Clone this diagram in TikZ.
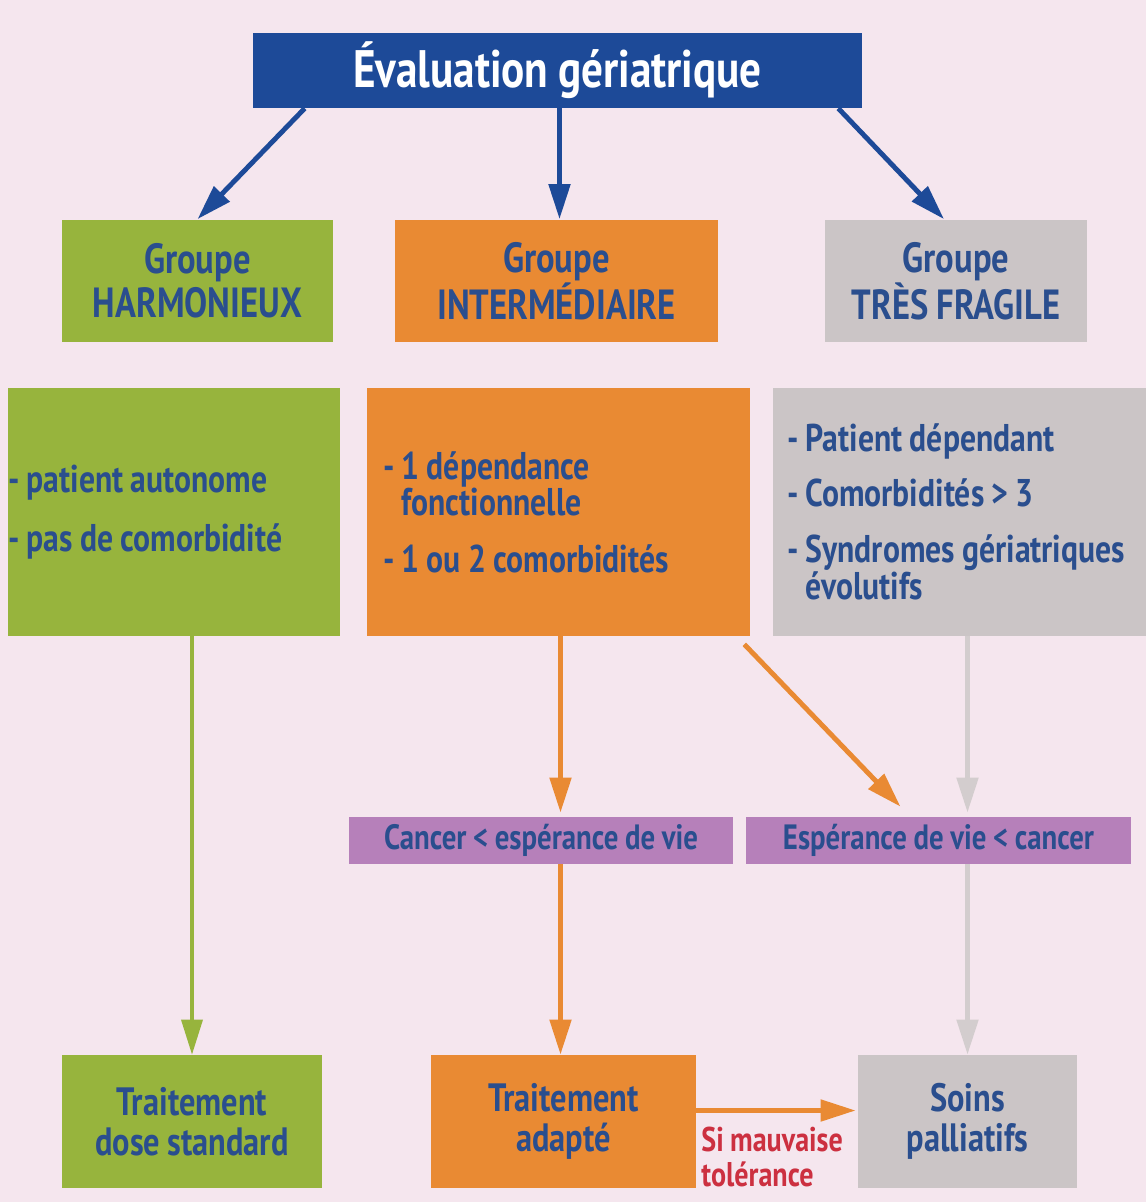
\documentclass[tikz,border=0pt]{standalone}
\usepackage{fontspec}
\setmainfont{PT Sans}[FakeStretch=0.82, WordSpace=0.9]
\usetikzlibrary{arrows.meta,calc}
\definecolor{bgpink}{HTML}{F5E6EE}
\definecolor{titleblue}{HTML}{1D4A98}
\definecolor{txtblue}{HTML}{2A4E8E}
\definecolor{grgreen}{HTML}{97B43D}
\definecolor{ororange}{HTML}{E98A33}
\definecolor{grgray}{HTML}{CBC5C6}
\definecolor{purp}{HTML}{B680BA}
\definecolor{arrgray}{HTML}{D3CDCE}
\definecolor{redtxt}{HTML}{CC3040}
\tikzset{
  box/.style={inner sep=2pt, text=txtblue, font=\bfseries},
  grp/.style={box, minimum height=2.46cm, align=center, font=\fontsize{24}{25}\selectfont\bfseries},
  desc/.style={box, minimum height=4.96cm, align=flush left, font=\fontsize{22}{20.5}\selectfont\bfseries},
  cond/.style={box, fill=purp, minimum height=0.94cm, font=\fontsize{20}{22}\selectfont\bfseries},
  res/.style={box, minimum height=2.66cm, align=center, font=\fontsize{22.5}{23}\selectfont\bfseries},
  fl/.style={line width=2.8pt, -{Triangle[length=20pt,width=12pt]}}
}
\begin{document}
\begin{tikzpicture}[x=0.02cm, y=-0.02cm]
  \fill[bgpink] (0,0) rectangle (1146,1202);
  \useasboundingbox (0,0) rectangle (1146,1202);
  % titre
  \node[box, fill=titleblue, text=white, minimum width=12.18cm, minimum height=1.5cm,
        font=\fontsize{30}{34}\selectfont\bfseries] (title) at (557.5,70.5) {Évaluation gériatrique};
  % groupes
  \node[grp, fill=grgreen, minimum width=5.42cm] (grp1) at (197.5,281) {Groupe\\HARMONIEUX};
  \node[grp, fill=ororange, minimum width=6.46cm] (grp2) at (556.5,281) {Groupe\\INTERMÉDIAIRE};
  \node[grp, fill=grgray, minimum width=5.24cm] (grp3) at (956,281) {Groupe\\TRÈS FRAGILE};
  % criteres
  \node[desc, fill=grgreen, inner xsep=0pt, text width=6.64cm] (desc1) at (174,512)
    {- patient autonome\\[13pt]- pas de comorbidité};
  \node[desc, fill=ororange, inner xsep=0.32cm, text width=7.02cm] (desc2) at (558.5,512)
    {- 1 dépendance\\\phantom{- }fonctionnelle\\[12pt]- 1 ou 2 comorbidités};
  \node[desc, fill=grgray, inner xsep=0.28cm, text width=6.9cm] (desc3) at (959.5,512)
    {- Patient dépendant\\[11pt]- Comorbidités > 3\\[11pt]- Syndromes gériatriques\\\phantom{- }évolutifs};
  % pronostic
  \node[cond, minimum width=7.68cm] (pur1) at (541,840.5) {Cancer < espérance de vie};
  \node[cond, minimum width=7.70cm] (pur2) at (938.5,840.5) {Espérance de vie < cancer};
  % traitements
  \node[res, fill=grgreen, minimum width=5.2cm] (bot1) at (192,1121.5) {Traitement\\dose standard};
  \node[res, fill=ororange, minimum width=5.3cm] (bot2) at (563.5,1121.5) {Traitement\\adapté};
  \node[res, fill=grgray, minimum width=4.38cm] (bot3) at (967.5,1121.5) {Soins\\palliatifs};
  \node[anchor=north west, align=left, inner sep=0pt, text=redtxt,
        font=\fontsize{19.5}{20}\selectfont\bfseries] (tol) at (701,1127) {Si mauvaise\\tolérance};
  % fleches
  \draw[fl, titleblue] ($(title.south west)+(52,0)$) -- (grp1.north);
  \draw[fl, titleblue] (title.south -| grp2) ++(3,0) -- ($(grp2.north)+(3,0)$);
  \draw[fl, titleblue] ($(title.south east)+(-24,0)$) -- ($(grp3.north)+(-12,0)$);
  \draw[fl, grgreen, line width=2pt] (bot1 |- desc1.south) -- (bot1.north);
  \draw[fl, ororange] ($(bot2 |- desc2.south)+(-3,0)$) -- ($(bot2 |- pur1.north)+(-3,-4)$);
  \draw[fl, ororange] ($(desc2.south east)+(-6,8)$) -- ($(pur2.north)+(-38,-10)$);
  \draw[fl, arrgray] (bot3 |- desc3.south) -- ($(bot3 |- pur2.north)+(0,-4)$);
  \draw[fl, ororange] ($(bot2 |- pur1.south)+(-3,0)$) -- ($(bot2.north)+(-3,0)$);
  \draw[fl, arrgray] (bot3 |- pur2.south) -- (bot3.north);
  \draw[fl, ororange] ($(bot2.east)+(0,-11)$) -- ($(bot3.west)+(-2,-11)$);
\end{tikzpicture}
\end{document}
